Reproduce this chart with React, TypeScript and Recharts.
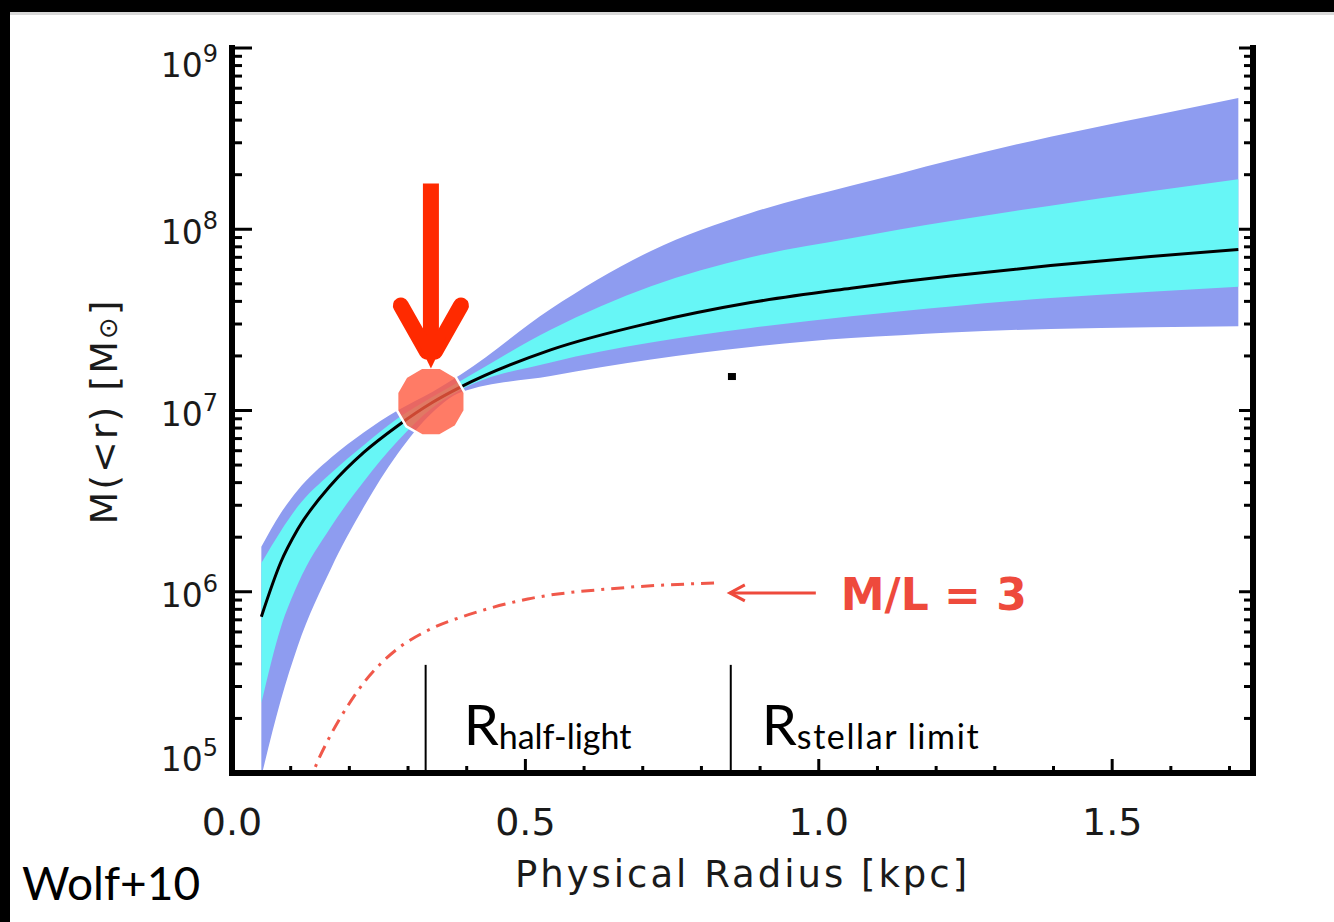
import React from 'react';
import { ComposedChart, Area, Line, XAxis, YAxis, ReferenceLine, ReferenceDot } from 'recharts';

const W = 1334;
const H = 922;

// Physical radius [kpc] sample points for the bands and median
const radius = [0.05, 0.083, 0.112, 0.169, 0.225, 0.282, 0.342, 0.39, 0.543, 0.714, 0.884, 1.055, 1.14, 1.225, 1.395, 1.566, 1.715];
// Median enclosed mass M(<r)
const massMedian = [7.28e5, 1.45e6, 2.21e6, 3.89e6, 5.89e6, 8.22e6, 1.11e7, 1.35e7, 2.16e7, 3.05e7, 3.94e7, 4.73e7, 5.13e7, 5.52e7, 6.31e7, 7.08e7, 7.74e7];
// Outer (blue) band
const outerHigh = [1.77e6, 2.71e6, 3.63e6, 5.5e6, 7.59e6, 1.0e7, 1.27e7, 1.58e7, 3.63e7, 7.59e7, 1.23e8, 1.74e8, 2.04e8, 2.4e8, 3.24e8, 4.22e8, 5.3e8];
const outerLow = [9.55e4, 2.51e5, 5.01e5, 1.35e6, 2.95e6, 5.75e6, 9.77e6, 1.26e7, 1.55e7, 1.91e7, 2.24e7, 2.51e7, 2.6e7, 2.69e7, 2.82e7, 2.88e7, 2.92e7];
// Inner (cyan) band
const innerHigh = [1.44e6, 2.16e6, 2.95e6, 4.52e6, 6.46e6, 9.02e6, 1.19e7, 1.46e7, 2.79e7, 4.84e7, 7.0e7, 8.91e7, 1.0e8, 1.11e8, 1.35e8, 1.62e8, 1.89e8];
const innerLow = [2.43e5, 6.31e5, 1.1e6, 2.29e6, 4.07e6, 6.76e6, 1.04e7, 1.3e7, 1.84e7, 2.37e7, 2.85e7, 3.31e7, 3.53e7, 3.75e7, 4.17e7, 4.52e7, 4.82e7];

// Stellar mass for M/L = 3
const mlRadius = [0.13, 0.14, 0.169, 0.197, 0.225, 0.254, 0.282, 0.339, 0.395, 0.424, 0.504, 0.663, 0.833];
const mlMass = [8.51e4, 1.04e5, 1.64e5, 2.34e5, 3.16e5, 4.03e5, 4.84e5, 6.24e5, 7.33e5, 7.85e5, 9.12e5, 1.05e6, 1.12e6];

// Marked radii
const rHalfLight = 0.33;
const rStellarLimit = 0.85;
const markerTopMass = 3.95e5;
const halfLightPoint = { r: 0.339, m: 1.12e7 };
const mlNotePoint = { r: 0.845, m: 9.85e5 };
const speck = { r: 0.852, m: 1.53e7 };

// Axes
const xDomain = [0, 1.74];
const xMajorTicks = [0, 0.5, 1.0, 1.5];
const xMinorTicks = [0.1, 0.2, 0.3, 0.4, 0.6, 0.7, 0.8, 0.9, 1.1, 1.2, 1.3, 1.4, 1.6, 1.7];
const topTickCount = 20;
const yDomain = [1e5, 1e9];
const yMajorTicks = [1e5, 1e6, 1e7, 1e8, 1e9];
const yMinorMultipliers = [2, 3, 4, 5, 6, 7, 8, 9];

const xAllTicks = [...xMajorTicks, ...xMinorTicks].sort((a, b) => a - b);
const topTicks = Array.from({ length: topTickCount - 1 }, (_, i) => ((i + 1) * xDomain[1]) / topTickCount);
const yAllTicks = [
  ...yMajorTicks,
  ...yMajorTicks.slice(0, -1).flatMap((d) => yMinorMultipliers.map((k) => k * d)),
].sort((a, b) => a - b);

const BLUE = '#8e9cf0';
const CYAN = '#67f6f6';
const RED_NOTE = '#ee4a3c';
const LABEL_FONT = 'DejaVu Sans';

const isMajorX = (v: number) => xMajorTicks.some((m) => Math.abs(m - v) < 1e-9);

const BottomTick = (props: any) => {
  const { x, y, payload } = props;
  const v = payload.value;
  const major = isMajorX(v);
  return (
    <g>
      <line x1={x} x2={x} y1={y} y2={y - (major ? 14 : 7)} stroke="#000" strokeWidth={3} />
      {major && (
        <text x={x} y={y + 62} textAnchor="middle" fontFamily={LABEL_FONT} fontSize={38} fill="#1a1a1a">
          {v.toFixed(1)}
        </text>
      )}
    </g>
  );
};

const TopTick = (props: any) => {
  const { x, y } = props;
  return <line x1={x} x2={x} y1={y} y2={y + 7} stroke="#000" strokeWidth={3} />;
};

const LeftTick = (props: any) => {
  const { x, y, payload } = props;
  const v = payload.value;
  const major = yMajorTicks.includes(v);
  const exp = Math.round(Math.log10(v));
  let base = y + 15;
  if (v === yMajorTicks[yMajorTicks.length - 1]) base = y + 29;
  if (v === yMajorTicks[0]) base = y - 2;
  return (
    <g>
      <line x1={x} x2={x + (major ? 20 : 10)} y1={y} y2={y} stroke="#000" strokeWidth={3} />
      {major && (
        <text x={x - 14} y={base} textAnchor="end" fontFamily={LABEL_FONT} fill="#1a1a1a">
          <tspan fontSize={33}>10</tspan>
          <tspan fontSize={24} dy={-15}>{exp}</tspan>
        </text>
      )}
    </g>
  );
};

const RightTick = (props: any) => {
  const { x, y, payload } = props;
  const major = yMajorTicks.includes(payload.value);
  return <line x1={x} x2={x - (major ? 14 : 9)} y1={y} y2={y} stroke="#000" strokeWidth={3} />;
};

const XTitle = (props: any) => {
  const vb = props.viewBox || {};
  return (
    <text x={vb.x + vb.width / 2} y={vb.y + 114} textAnchor="middle" fontFamily={LABEL_FONT} fontSize={37} letterSpacing={3} fill="#1a1a1a">
      Physical Radius [kpc]
    </text>
  );
};

const YTitle = (props: any) => {
  const vb = props.viewBox || {};
  const cx = 117;
  const cy = vb.y + vb.height / 2 + 1;
  return (
    <text x={cx} y={cy} transform={`rotate(-90 ${cx} ${cy})`} textAnchor="middle" fontFamily={LABEL_FONT} fontSize={38} letterSpacing={2} fill="#1a1a1a">
      M(&lt;r) [M<tspan fontSize={26}>⊙</tspan>]
    </text>
  );
};

const HalfLightMark = (props: any) => {
  const { cx, cy } = props;
  const R = 35;
  const pts = Array.from({ length: 12 }, (_, k) => {
    const a = ((15 + k * 30) * Math.PI) / 180;
    return `${cx + R * Math.cos(a)},${cy - R * Math.sin(a)}`;
  }).join(' ');
  const red = '#ff2a00';
  return (
    <g>
      <polygon points={pts} fill="#ff5a40" fillOpacity={0.8} stroke="#fff" strokeWidth={2.5} />
      <line x1={cx} y1={cy - 218} x2={cx} y2={cy - 55} stroke={red} strokeWidth={16} />
      <line x1={cx - 30} y1={cy - 96} x2={cx - 4} y2={cy - 50} stroke={red} strokeWidth={16} strokeLinecap="round" />
      <line x1={cx + 30} y1={cy - 96} x2={cx + 4} y2={cy - 50} stroke={red} strokeWidth={16} strokeLinecap="round" />
      <polygon points={`${cx - 15},${cy - 64} ${cx + 15},${cy - 64} ${cx},${cy - 33}`} fill={red} />
    </g>
  );
};

const MLNote = (props: any) => {
  const { cx, cy } = props;
  return (
    <g>
      <line x1={cx + 2} y1={cy} x2={cx + 88} y2={cy} stroke={RED_NOTE} strokeWidth={3} />
      <polyline points={`${cx + 17},${cy - 8} ${cx + 2},${cy} ${cx + 17},${cy + 8}`} fill="none" stroke={RED_NOTE} strokeWidth={3} />
      <text x={cx + 113} y={cy + 17} fontFamily={LABEL_FONT} fontWeight="bold" fontSize={44} fill={RED_NOTE}>
        M/L = 3
      </text>
    </g>
  );
};

const RLabel = (sub: string, dx: number, spacing: number) => (props: any) => {
  const { cx, cy } = props;
  return (
    <text x={cx + dx} y={cy - 28} fontFamily="Lato" fill="#000">
      <tspan fontSize={56}>R</tspan>
      <tspan fontSize={34} dy={4} letterSpacing={spacing}>{sub}</tspan>
    </text>
  );
};

const Speck = (props: any) => {
  const { cx, cy } = props;
  return <rect x={cx - 4} y={cy - 4} width={8} height={7} fill="#000" />;
};

export default function App() {
  const table = radius.map((r, i) => ({
    r,
    outer: [outerLow[i], outerHigh[i]],
    inner: [innerLow[i], innerHigh[i]],
    median: massMedian[i],
  }));
  const mlTable = mlRadius.map((r, i) => ({ r, ml: mlMass[i] }));
  const axisLineStyle = { stroke: '#000', strokeWidth: 6, strokeLinecap: 'square' as const };

  return (
    <div style={{ position: 'absolute', left: 0, top: 0, width: W, height: H, background: '#fff', overflow: 'hidden' }}>
      <ComposedChart width={W} height={H} data={table} margin={{ top: 48, right: 80, bottom: 0, left: 0 }}>
        <XAxis
          xAxisId="b"
          dataKey="r"
          type="number"
          domain={xDomain}
          allowDataOverflow
          ticks={xAllTicks}
          interval={0}
          tickSize={0}
          tickMargin={0}
          tick={<BottomTick />}
          tickLine={false}
          axisLine={axisLineStyle}
          height={149}
          label={<XTitle />}
        />
        <XAxis
          xAxisId="t"
          orientation="top"
          type="number"
          domain={xDomain}
          allowDataOverflow
          ticks={topTicks}
          interval={0}
          tickSize={0}
          tickMargin={0}
          tick={<TopTick />}
          tickLine={false}
          axisLine={axisLineStyle}
          height={0}
        />
        <YAxis
          yAxisId="l"
          type="number"
          scale="log"
          domain={yDomain}
          allowDataOverflow
          ticks={yAllTicks}
          interval={0}
          tickSize={0}
          tickMargin={0}
          tick={<LeftTick />}
          tickLine={false}
          axisLine={axisLineStyle}
          width={232}
          label={<YTitle />}
        />
        <YAxis
          yAxisId="r"
          orientation="right"
          type="number"
          scale="log"
          domain={yDomain}
          allowDataOverflow
          ticks={yAllTicks}
          interval={0}
          tickSize={0}
          tickMargin={0}
          tick={<RightTick />}
          tickLine={false}
          axisLine={axisLineStyle}
          width={1}
        />
        <Area xAxisId="b" yAxisId="l" type="monotone" dataKey="outer" stroke="none" fill={BLUE} fillOpacity={1} isAnimationActive={false} />
        <Area xAxisId="b" yAxisId="l" type="monotone" dataKey="inner" stroke="none" fill={CYAN} fillOpacity={1} isAnimationActive={false} />
        <Line xAxisId="b" yAxisId="l" type="monotone" dataKey="median" stroke="#000" strokeWidth={3} dot={false} isAnimationActive={false} />
        <Line
          xAxisId="b"
          yAxisId="l"
          data={mlTable}
          type="monotone"
          dataKey="ml"
          stroke="#f0584a"
          strokeWidth={3}
          strokeDasharray="13 7 3 7"
          dot={false}
          isAnimationActive={false}
        />
        <ReferenceLine xAxisId="b" yAxisId="l" segment={[{ x: rHalfLight, y: markerTopMass }, { x: rHalfLight, y: yDomain[0] }]} stroke="#000" strokeWidth={2} />
        <ReferenceLine xAxisId="b" yAxisId="l" segment={[{ x: rStellarLimit, y: markerTopMass }, { x: rStellarLimit, y: yDomain[0] }]} stroke="#000" strokeWidth={2} />
        <ReferenceDot xAxisId="b" yAxisId="l" x={rHalfLight} y={yDomain[0]} r={1} shape={RLabel('half-light', 38, 0)} />
        <ReferenceDot xAxisId="b" yAxisId="l" x={rStellarLimit} y={yDomain[0]} r={1} shape={RLabel('stellar limit', 31, 1.6)} />
        <ReferenceDot xAxisId="b" yAxisId="l" x={mlNotePoint.r} y={mlNotePoint.m} r={1} shape={MLNote} />
        <ReferenceDot xAxisId="b" yAxisId="l" x={speck.r} y={speck.m} r={4} shape={Speck} />
        <ReferenceDot xAxisId="b" yAxisId="l" x={halfLightPoint.r} y={halfLightPoint.m} r={35} shape={HalfLightMark} />
      </ComposedChart>
      <svg width={W} height={H} style={{ position: 'absolute', left: 0, top: 0, pointerEvents: 'none' }}>
        <rect x={0} y={0} width={W} height={12} fill="#000" />
        <rect x={0} y={12} width={W} height={3} fill="#d8d8d8" />
        <rect x={0} y={0} width={10} height={H} fill="#000" />
        <text x={22} y={900} fontFamily="Lato" fontSize={46} fill="#000">
          Wolf+10
        </text>
      </svg>
    </div>
  );
}
